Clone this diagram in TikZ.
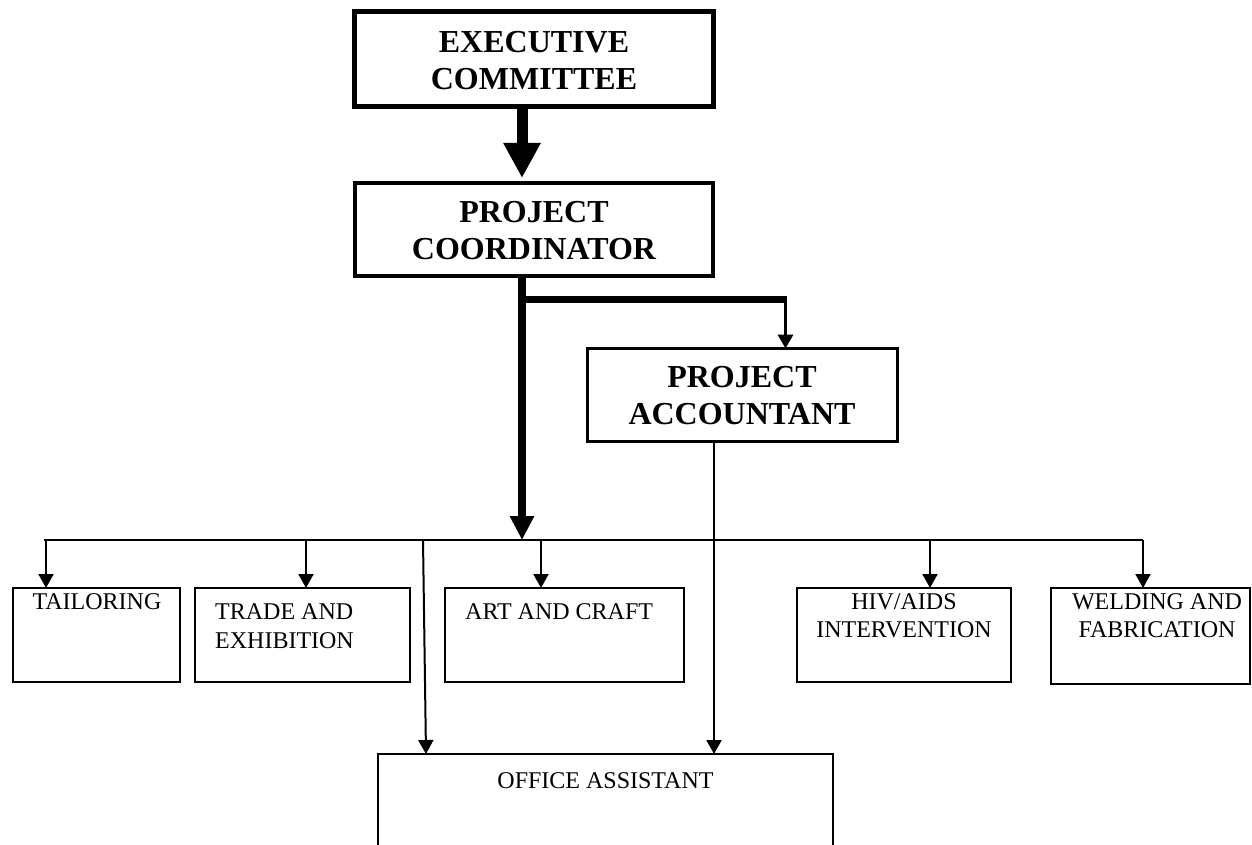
\documentclass[tikz,border=0pt]{standalone}
\usepackage{fontspec}
\setmainfont{Liberation Serif}
\usetikzlibrary{arrows.meta}
\begin{document}
\begin{tikzpicture}[x=1pt,y=-1pt,
  box/.style={draw, rectangle, inner sep=0pt, outer sep=0pt},
  hd/.style={font=\fontsize{32}{37}\selectfont\bfseries, inner sep=0pt, align=center, anchor=base},
  tx/.style={font=\fontsize{24}{29}\selectfont, inner sep=0pt, anchor=base},
  tx2/.style={font=\fontsize{24}{28}\selectfont, inner sep=0pt, anchor=base, align=center},
  thinarrow/.style={line width=2pt, -{Triangle[width=15pt,length=14pt]}}]
\useasboundingbox (0,0) rectangle (1252,845);
\fill[white] (0,0) rectangle (1252,845);
\clip (0,0) rectangle (1252,845);

% boxes
\node[box, line width=5pt, minimum width=359pt, minimum height=95pt] (exec) at (534,59) {};
\node[box, line width=4pt, minimum width=358pt, minimum height=93pt] (coord) at (534,229.5) {};
\node[box, line width=3pt, minimum width=310pt, minimum height=93pt] (acct) at (742.5,395) {};
\node[box, line width=2pt, minimum width=167pt, minimum height=94pt] (tail) at (96.5,635) {};
\node[box, line width=2pt, minimum width=215pt, minimum height=94pt] (trade) at (302.5,635) {};
\node[box, line width=2pt, minimum width=239pt, minimum height=94pt] (art) at (564.5,635) {};
\node[box, line width=2pt, minimum width=214pt, minimum height=94pt] (hiv) at (904,635) {};
\node[box, line width=2pt, minimum width=199pt, minimum height=96pt] (weld) at (1150.5,636) {};
\node[box, line width=2pt, minimum width=455pt, minimum height=146pt] (office) at (605.5,827) {};

% texts (multi-line nodes: base anchor is the last line's baseline)
\node[hd] (exect) at (534,90) {EXECUTIVE\\COMMITTEE};
\node[hd] (coordt) at (534,259) {PROJECT\\COORDINATOR};
\node[hd] (acctt) at (742,424) {PROJECT\\ACCOUNTANT};
\node[tx] (tailt) at (97,609) {TAILORING};
\node[tx, anchor=base west, align=left] (tradet) at (215,648) {TRADE AND\\EXHIBITION};
\node[tx, anchor=base west] (artt) at (465,619) {ART AND CRAFT};
\node[tx2] (hivt) at (904,637) {HIV/AIDS\\INTERVENTION};
\node[tx2] (weldt) at (1157,637) {WELDING AND\\FABRICATION};
\node[tx] (offt) at (605.5,788) {OFFICE ASSISTANT};

% coordinates
\coordinate (busL) at (44,540);
\coordinate (busR) at (1143,540);
\coordinate (br) at (522,299);
\coordinate (brc) at (785.5,299);
\coordinate (offtap) at (423,540);

% connectors
\draw[line width=11pt, -{Triangle[width=35pt,length=35pt]}] ([xshift=-12pt]exec.south) -- ([xshift=-12pt,yshift=5pt]coord.north);
\draw[line width=8pt, -{Triangle[width=23pt,length=24pt]}] ([xshift=-12pt]coord.south) -- ([xshift=-12pt]coord.south |- busL);
\draw[line width=7pt] (br) -- ([xshift=1.5pt]brc);
\draw[line width=3.5pt, -{Triangle[width=15pt,length=14pt]}] (brc) -- (acct.north -| brc);
\draw[thinarrow] ([xshift=-28.5pt]acct.south) -- ([xshift=108.5pt]office.north);
\draw[line width=2pt] (busL) -- (busR);
\draw[thinarrow] ([xshift=-50.5pt]tail.north |- busL) -- ([xshift=-50.5pt]tail.north);
\draw[thinarrow] ([xshift=3.5pt]trade.north |- busL) -- ([xshift=3.5pt]trade.north);
\draw[thinarrow] ([xshift=-23.5pt]art.north |- busL) -- ([xshift=-23.5pt]art.north);
\draw[thinarrow] ([xshift=26pt]hiv.north |- busL) -- ([xshift=26pt]hiv.north);
\draw[thinarrow] ([xshift=-7.5pt]weld.north |- busL) -- ([xshift=-7.5pt]weld.north);
\draw[thinarrow] (offtap) -- ([xshift=-179.5pt]office.north);
\end{tikzpicture}
\end{document}
